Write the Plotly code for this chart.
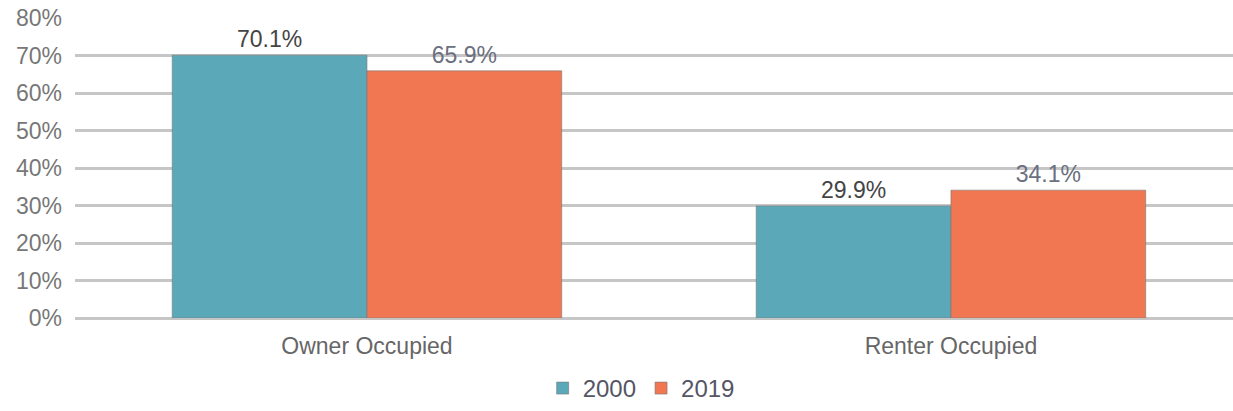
import plotly.graph_objects as go

categories = ["Owner Occupied", "Renter Occupied"]
years = ["2000", "2019"]
share_2000 = [70.1, 29.9]
share_2019 = [65.9, 34.1]
tick_vals = [0, 10, 20, 30, 40, 50, 60, 70, 80]
tick_text = ["0%", "10%", "20%", "30%", "40%", "50%", "60%", "70%", "80%"]

colors = {"2000": "#5BA8B9", "2019": "#F17652"}
label_colors = {"2000": "#444444", "2019": "#6B6F80"}

fig = go.Figure()
for year, vals in zip(years, [share_2000, share_2019]):
    fig.add_trace(go.Bar(
        x=categories, y=vals, name=year,
        marker=dict(color=colors[year], line=dict(color="rgba(120,120,120,0.6)", width=1)),
        text=[f"{v:.1f}%" for v in vals],
        textposition="outside",
        cliponaxis=False,
        textfont=dict(size=23, color=label_colors[year]),
    ))

fig.update_layout(
    width=1233, height=411,
    margin=dict(l=75, r=0, t=18, b=93),
    paper_bgcolor="white", plot_bgcolor="white",
    font=dict(family="Liberation Sans, Arial, sans-serif", size=23, color="#666666"),
    barmode="group", bargap=0.333, bargroupgap=0,
    xaxis=dict(range=[-0.5, 1.483], showgrid=False, showline=False, ticks="",
               automargin=False, ticklabelstandoff=12,
               tickfont=dict(size=23, color="#666666")),
    yaxis=dict(range=[0, 80], tickvals=tick_vals, ticktext=tick_text,
               showgrid=True, gridcolor="#C6C6C6", gridwidth=3,
               zeroline=True, zerolinecolor="#C6C6C6", zerolinewidth=3,
               ticks="", ticklabelstandoff=12, automargin=False,
               tickfont=dict(size=23, color="#777777")),
    showlegend=True,
    legend=dict(orientation="h", xref="container", yref="container",
                x=0.52, xanchor="center", y=-0.016, yanchor="bottom",
                font=dict(size=24, color="#555566"), itemwidth=30, traceorder="normal"),
)

# page has a default 8px body margin, drop it so the chart sits at 0,0
fig.write_html("out.html", config={"displayModeBar": False},
               post_script="document.body.style.margin='0';document.body.style.overflow='hidden';")
